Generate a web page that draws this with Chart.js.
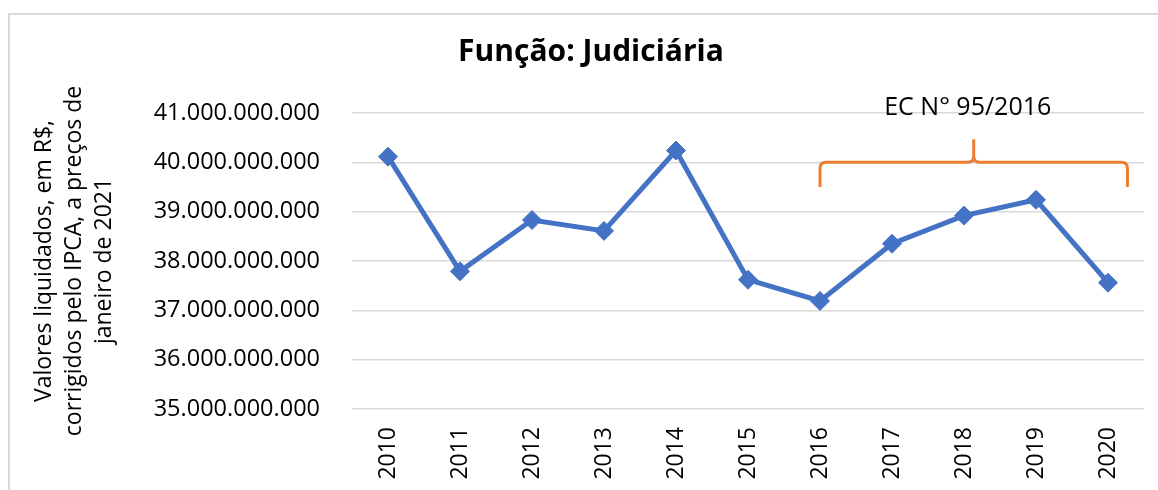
<!DOCTYPE html>
<html lang="pt-BR">
<head>
<meta charset="utf-8">
<title>Função: Judiciária</title>
<script src="https://cdn.jsdelivr.net/npm/chart.js@4.4.0/dist/chart.umd.min.js"></script>
<style>
    html, body { margin: 0; padding: 0; background: #ffffff; }
    #wrap { position: relative; width: 1158px; height: 490px; }
</style>
</head>
<body>
<div id="wrap"><canvas id="judChart" width="1158" height="490"></canvas></div>
<script>
// Dados
const years = ['2010', '2011', '2012', '2013', '2014', '2015', '2016', '2017', '2018', '2019', '2020'];
const valores = [40115000000, 37790000000, 38830000000, 38610000000, 40240000000, 37620000000,
                 37190000000, 38350000000, 38920000000, 39240000000, 37560000000];
const yTicks = [35000000000, 36000000000, 37000000000, 38000000000, 39000000000, 40000000000, 41000000000];
const yTitle = ['Valores liquidados, em R$,', 'corrigidos pelo IPCA, a preços de', 'janeiro de 2021'];
const chartTitle = 'Função: Judiciária';

// chave laranja (EC 95/2016)
const ecLabel = 'EC N° 95/2016';
const ecFrom = 6;        // 2016
const ecTo = 10.27;      // um pouco depois de 2020
const ecLine = 40000000000;
const ecEnds = 39500000000;
const ecPeak = 40470000000;
const ecText = 41110000000;

const FONT = "'Open Sans', 'Noto Sans', sans-serif";

function fmtBR(v) {
    return Math.round(v).toString().replace(/\B(?=(\d{3})+(?!\d))/g, '.');
}

// moldura cinza + título
const framePlugin = {
    id: 'frame',
    beforeDraw(chart) {
        const c = chart.ctx;
        c.save();
        c.strokeStyle = '#d9d9d9';
        c.lineWidth = 2;
        c.strokeRect(9, 14, 1300, 600);
        c.fillStyle = '#000000';
        c.font = 'bold 30px ' + FONT;
        c.textAlign = 'center';
        c.textBaseline = 'middle';
        c.fillText(chartTitle, 591, 52);
        c.restore();
    }
};

// chave + texto
const bracketPlugin = {
    id: 'bracket',
    afterDatasetsDraw(chart) {
        const x = chart.scales.x, y = chart.scales.y;
        const c = chart.ctx;
        const x1 = x.getPixelForValue(ecFrom);
        const x2 = x.getPixelForValue(ecTo);
        const xm = (x1 + x2) / 2;
        const yl = y.getPixelForValue(ecLine);
        const ye = y.getPixelForValue(ecEnds);
        const yp = y.getPixelForValue(ecPeak);
        const r = 6;
        c.save();
        c.strokeStyle = '#ED7D31';
        c.lineWidth = 3;
        c.beginPath();
        c.moveTo(x1, ye);
        c.lineTo(x1, yl + r);
        c.quadraticCurveTo(x1, yl, x1 + r, yl);
        c.lineTo(xm - r, yl);
        c.quadraticCurveTo(xm, yl, xm, yl - r);
        c.lineTo(xm, yp);
        c.moveTo(xm, yl - r);
        c.quadraticCurveTo(xm, yl, xm + r, yl);
        c.lineTo(x2 - r, yl);
        c.quadraticCurveTo(x2, yl, x2, yl + r);
        c.lineTo(x2, ye);
        c.stroke();

        c.fillStyle = '#000000';
        c.font = '25px ' + FONT;
        c.textAlign = 'center';
        c.textBaseline = 'middle';
        c.fillText(ecLabel, xm - 6, y.getPixelForValue(ecText));
        c.restore();
    }
};

document.addEventListener('DOMContentLoaded', () => {
    const ctx = document.getElementById('judChart').getContext('2d');
    new Chart(ctx, {
        type: 'line',
        data: {
            labels: years,
            datasets: [{
                label: chartTitle,
                data: valores,
                borderColor: '#4472C4',
                backgroundColor: '#4472C4',
                borderWidth: 5,
                pointStyle: 'rectRot',
                pointRadius: 9.5,
                pointHoverRadius: 9.5,
                pointBorderWidth: 1,
                tension: 0
            }]
        },
        options: {
            responsive: false,
            animation: false,
            layout: { padding: { left: 0, top: 113, right: 14, bottom: 0 } },
            plugins: {
                legend: { display: false },
                tooltip: { enabled: false },
                title: { display: false }
            },
            scales: {
                x: {
                    offset: true,
                    grid: { display: false, drawTicks: false },
                    border: { display: false },
                    ticks: {
                        color: '#000000',
                        font: { family: FONT, size: 23 },
                        minRotation: 90,
                        maxRotation: 90,
                        padding: 18
                    },
                    afterFit(scale) { scale.height = 81; }
                },
                y: {
                    min: 35000000000,
                    max: 41000000000,
                    afterBuildTicks(scale) {
                        scale.ticks = yTicks.map(v => ({ value: v }));
                    },
                    grid: { color: '#d9d9d9', lineWidth: 1.5, drawTicks: false },
                    border: { display: false },
                    ticks: {
                        color: '#000000',
                        font: { family: FONT, size: 23.5 },
                        padding: 32,
                        callback: v => fmtBR(v)
                    },
                    title: {
                        display: true,
                        text: yTitle,
                        color: '#000000',
                        font: { family: FONT, size: 23, lineHeight: 1.32 },
                        padding: { top: 29, bottom: 0 }
                    },
                    afterFit(scale) { scale.width = 352; }
                }
            }
        },
        plugins: [framePlugin, bracketPlugin]
    });
});
</script>
</body>
</html>
